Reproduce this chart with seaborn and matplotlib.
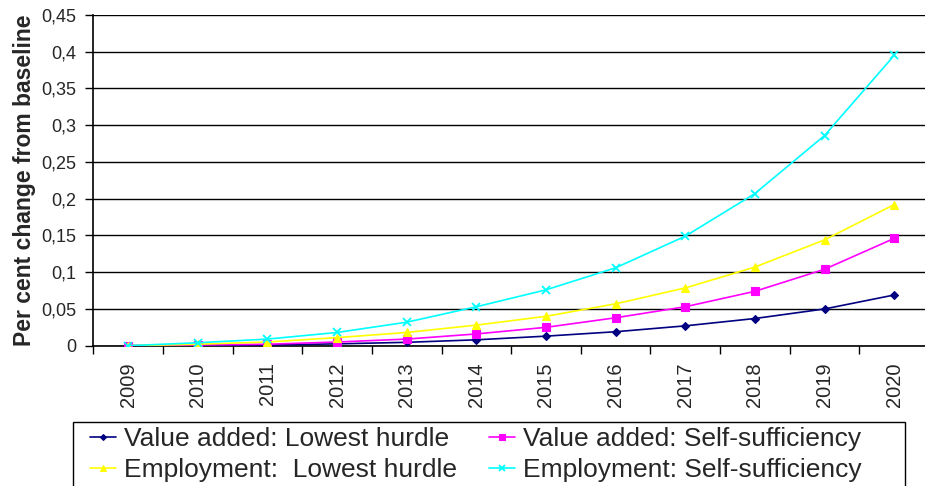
import matplotlib
matplotlib.use("Agg")
import matplotlib.pyplot as plt
import seaborn as sns
import pandas as pd
from matplotlib.ticker import FixedLocator, FuncFormatter
from matplotlib.patches import Rectangle

years = [2009, 2010, 2011, 2012, 2013, 2014, 2015, 2016, 2017, 2018, 2019, 2020]

va_lowest = [0.0, 0.0005, 0.001, 0.0025, 0.0046, 0.008, 0.013, 0.019, 0.027, 0.037, 0.050, 0.069]
va_self = [0.0, 0.001, 0.002, 0.005, 0.009, 0.016, 0.025, 0.038, 0.053, 0.074, 0.104, 0.146]
emp_lowest = [0.0, 0.002, 0.005, 0.011, 0.018, 0.028, 0.040, 0.057, 0.0786, 0.107, 0.144, 0.192]
emp_self = [0.0, 0.004, 0.009, 0.018, 0.032, 0.053, 0.076, 0.106, 0.149, 0.207, 0.286, 0.395]

series_names = [
    "Value added: Lowest hurdle",
    "Value added: Self-sufficiency",
    "Employment:  Lowest hurdle",
    "Employment: Self-sufficiency",
]
series_values = [va_lowest, va_self, emp_lowest, emp_self]
colors = ["#000080", "#FF00FF", "#FFFF00", "#00FFFF"]
markers = ["D", "s", "^", "x"]
marker_sizes = [4, 6, 6, 6]

sns.set_style("white")
plt.rcParams["font.family"] = ["Liberation Sans", "DejaVu Sans"]

W, H = 925, 486
fig = plt.figure(figsize=(W / 100, H / 100), dpi=100)
ax = fig.add_axes([93.3 / W, 1 - 345.7 / H, (W - 93.3 + 4) / W, (345.7 - 15) / H])

rows = []
for name, vals in zip(series_names, series_values):
    for i, v in enumerate(vals):
        rows.append({"pos": i, "value": v, "series": name})
df = pd.DataFrame(rows)

for name, c, m, ms in zip(series_names, colors, markers, marker_sizes):
    sns.lineplot(data=df[df["series"] == name], x="pos", y="value", ax=ax,
                 color=c, marker=m, markersize=ms, linewidth=1.2,
                 markeredgecolor=c, markeredgewidth=1.3 if m == "x" else 0.8,
                 label=name, zorder=3)

ax.set_xlim(-0.5, len(years) - 0.5)
ax.set_ylim(0, 0.45)

# y axis with comma decimals
yt = [i * 0.05 for i in range(10)]
ax.set_yticks(yt)
ax.yaxis.set_major_formatter(FuncFormatter(
    lambda v, p: "0" if abs(v) < 1e-9 else f"{v:.2f}".rstrip("0").replace(".", ",")))
ax.yaxis.grid(True, color="black", linewidth=1.0)
ax.set_axisbelow(True)

# x axis: labels at category centres, tick marks on category boundaries
ax.set_xticks(range(len(years)))
ax.set_xticklabels([str(y) for y in years], rotation=90)
ax.xaxis.set_minor_locator(FixedLocator([i - 0.5 for i in range(len(years) + 1)]))
ax.tick_params(axis="x", which="major", length=0, pad=12, labelsize=14.5)
ax.tick_params(axis="x", which="minor", length=6, width=1, color="black", direction="out", bottom=True)
ax.tick_params(axis="y", which="major", length=6, width=1, color="black", direction="out",
               left=True, labelsize=13, pad=6)
ax.set_xlabel("")
ax.set_ylabel("Per cent change from baseline", fontsize=16.5, fontweight="bold", labelpad=4)

for s in ["top", "right"]:
    ax.spines[s].set_visible(False)
for s in ["left", "bottom"]:
    ax.spines[s].set_color("black")
    ax.spines[s].set_linewidth(1.2)

# legend: two rows, value added on top, employment below
handles, labels = ax.get_legend_handles_labels()
order = [0, 2, 1, 3]
leg = fig.legend([handles[i] for i in order], [labels[i] for i in order],
                 loc="upper left", bbox_to_anchor=(90 / W, 1 - 427 / H), ncol=2, fontsize=19,
                 frameon=False, borderpad=0, handlelength=1.0, handletextpad=0.3,
                 columnspacing=1.2, labelspacing=0.28, borderaxespad=0, markerscale=0.75)
if ax.get_legend():
    ax.get_legend().remove()
fig.patches.append(Rectangle((73 / W, -0.05), (905 - 73) / W, 0.05 + (486 - 421.5) / H,
                             transform=fig.transFigure, fill=False, edgecolor="black",
                             linewidth=1.0, zorder=1))

fig.savefig("out.png", dpi=100)
